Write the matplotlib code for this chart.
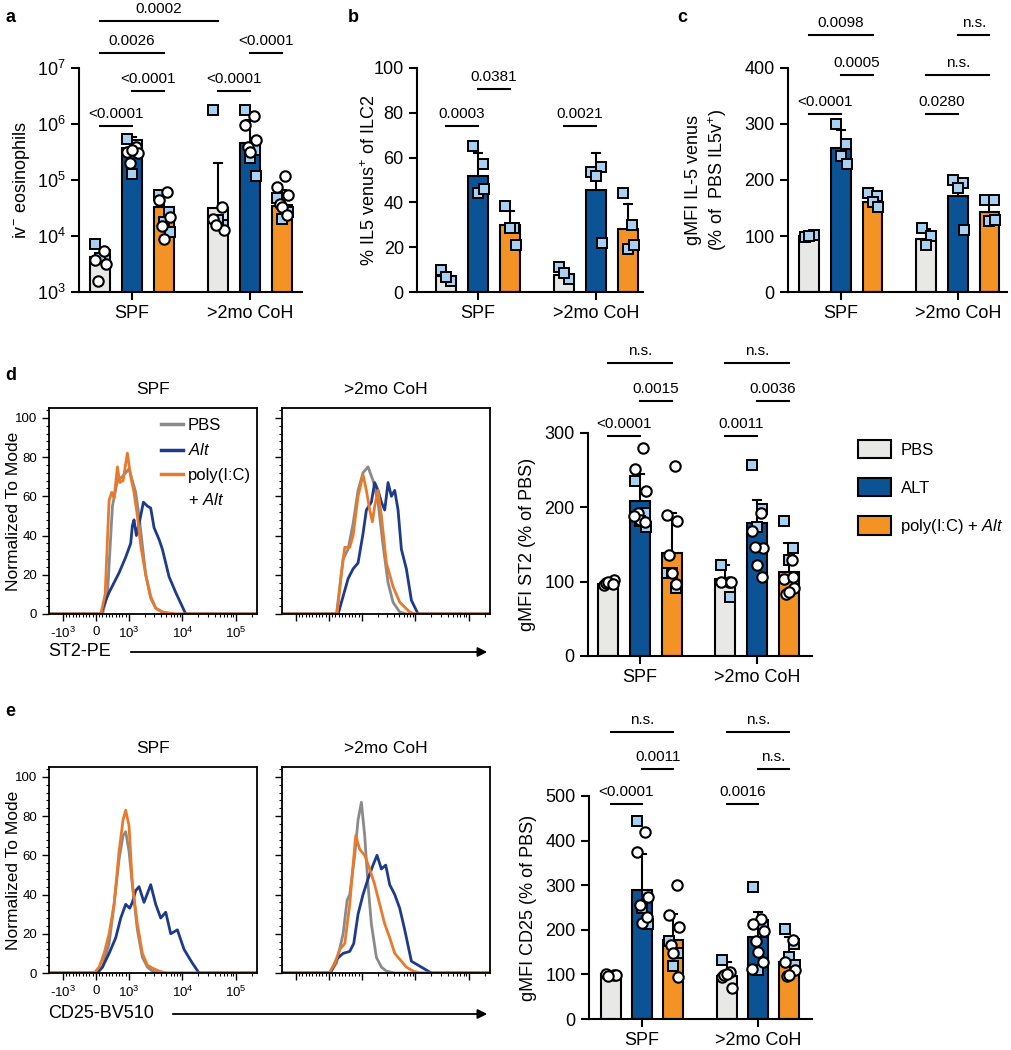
import numpy as np
import matplotlib.pyplot as plt
import matplotlib.ticker as mticker
from matplotlib.patches import Patch, FancyArrowPatch
from matplotlib.lines import Line2D

plt.rcParams['font.family'] = ['Liberation Sans', 'DejaVu Sans']
plt.rcParams['mathtext.fontset'] = 'custom'
plt.rcParams['mathtext.rm'] = 'Liberation Sans'
plt.rcParams['mathtext.it'] = 'Liberation Sans:italic'
plt.rcParams['mathtext.bf'] = 'Liberation Sans:bold'

# ---------------- data ----------------
groups = ["SPF", ">2mo CoH"]
treatments = ["PBS", "ALT", "poly(I:C) + Alt"]

# panel a: iv- eosinophils (log)
a_mean = [[4.2e3, 3.8e5, 3.3e4], [3.1e4, 4.5e5, 3.5e4]]
a_top = [[6.0e3, 5.9e5, 5.0e4], [2.0e5, 1.2e6, 6.6e4]]
a_sq = [[[7.2e3, 4.6e3, 4.0e3], [5.5e5, 4.2e5, 1.3e5], [5.4e4, 2.7e4, 1.8e4, 1.2e4]],
        [[1.8e6, 1.6e4, 1.9e4], [1.8e6, 3.4e5, 2.45e5, 1.2e5], [4.7e4, 2.9e4, 2.05e4, 2.7e4]]]
a_ci = [[[5.5e3, 3.8e3, 3.2e3, 1.6e3], [3.9e5, 3.2e5, 3.0e5, 2.0e5, 3.4e5], [6.2e4, 4.4e4, 2.2e4, 1.5e4, 9e3]],
        [[3.3e4, 2.0e4, 1.3e4, 1.6e4], [1.37e6, 9.6e5, 5.2e5, 3.9e5, 3.2e5], [1.2e5, 7.6e4, 5.4e4, 3.8e4, 3.3e4, 2.35e4]]]
a_stats = [(0, 0, 0, 1, 9.2e5, "<0.0001"), (0, 1, 0, 2, 3.9e6, "<0.0001"), (0, 0, 0, 2, 1.85e7, "0.0026"),
           (0, 0, 1, 0, 6.9e7, "0.0002"), (1, 0, 1, 1, 3.9e6, "<0.0001"), (1, 1, 1, 2, 1.85e7, "<0.0001")]

# panel b: % IL5 venus+ of ILC2
b_mean = [[7, 52, 30], [7.5, 45.5, 28]]
b_top = [[9, 62, 36], [9.5, 62, 39.5]]
b_sq = [[[10, 5, 6.5], [65, 57, 44, 46], [38.5, 28.4, 28.4, 21]],
        [[11, 6, 8.5], [53.7, 56, 52, 22], [44, 30, 19.4, 21]]]
b_stats = [(0, 0, 0, 1, 74, "0.0003"), (0, 1, 0, 2, 90.6, "0.0381"), (1, 0, 1, 1, 74, "0.0021")]

# panel c: gMFI IL-5 venus
c_mean = [[100, 257, 161], [94, 171, 143]]
c_top = [[103, 290, 176], [113, 197, 167]]
c_sq = [[[98, 102, 100], [300, 264, 243, 228], [177, 172, 161, 152]],
        [[115, 100, 84], [200, 195, 186, 110], [164, 164, 127, 128]]]
c_stats = [(0, 0, 0, 1, 318, "<0.0001"), (0, 1, 0, 2, 387, "0.0005"), (0, 0, 0, 2, 459, "0.0098"),
           (1, 0, 1, 1, 318, "0.0280"), (1, 0, 1, 2, 387, "n.s."), (1, 1, 1, 2, 459, "n.s.")]

# panel d bar: gMFI ST2
d_mean = [[97, 208, 138], [104, 179, 113]]
d_top = [[104, 245, 193], [122, 210, 152]]
d_sq = [[[], [235, 193, 182, 174], [111, 92, 111]],
        [[122, 80], [257, 198, 173], [182, 145, 129]]]
d_ci = [[[100, 95, 102, 98, 99, 97], [280, 251, 222, 193, 183, 180, 189], [255, 190, 181, 136, 111, 97]],
        [[100, 100, 100], [193, 168, 145, 146, 122, 106], [129, 104, 91, 84, 86, 106]]]
d_stats = [(0, 0, 0, 1, 296, "<0.0001"), (0, 1, 0, 2, 343, "0.0015"), (0, 0, 0, 2, 394, "n.s."),
           (1, 0, 1, 1, 296, "0.0011"), (1, 1, 1, 2, 343, "0.0036"), (1, 0, 1, 2, 394, "n.s.")]

# panel e bar: gMFI CD25
e_mean = [[100, 290, 178], [96, 183, 128]]
e_top = [[104, 369, 235], [128, 240, 183]]
e_sq = [[[], [445, 278, 248, 214], [175, 147, 119]],
        [[132], [295, 210, 110], [201, 169, 139, 121]]]
e_ci = [[[98, 101, 98, 96], [419, 375, 274, 255, 216, 229], [300, 233, 207, 166, 149, 95]],
        [[106, 95, 69, 98, 102], [225, 214, 197, 175, 151, 128, 113], [178, 128, 110, 96, 98]]]
e_stats = [(0, 0, 0, 1, 482, "<0.0001"), (0, 1, 0, 2, 560, "0.0011"), (0, 0, 0, 2, 643, "n.s."),
           (1, 0, 1, 1, 482, "0.0016"), (1, 1, 1, 2, 560, "n.s."), (1, 0, 1, 2, 643, "n.s.")]

# histograms (ST2-PE), x = fluorescence intensity, y = % of mode
d_spf_pbs_x = [-1800, 200, 350, 500, 650, 800, 1000, 1155, 1334, 1540, 1778, 2054, 2548, 3162, 4217, 6494, 250000]
d_spf_pbs_y = [0, 0, 10, 55, 68, 70, 74, 68, 62, 50, 35, 20, 8, 3, 1, 0, 0]
d_spf_alt_x = [-1800, 150, 300, 400, 550, 700, 900, 1075, 1155, 1240, 1372, 1654, 1857, 2207, 2548, 2943, 3652, 4217,
               5623, 7499, 11548, 250000]
d_spf_alt_y = [0, 0, 7, 11, 16, 21, 29, 36, 45, 48, 40, 50, 57, 55, 54, 44, 38, 33, 19, 11, 0, 0]
d_spf_pic_x = [-1800, 150, 280, 400, 480, 550, 650, 720, 820, 950, 1075, 1240, 1433, 1654, 2054, 2548, 3162, 4217, 7499,
               250000]
d_spf_pic_y = [0, 0, 10, 58, 62, 59, 75, 67, 68, 82, 70, 62, 50, 35, 20, 9, 3, 1, 0, 0]

d_coh_pbs_x = [-1800, 230, 430, 580, 730, 880, 1044, 1296, 1607, 1995, 2477, 3073, 3811, 5082, 6772, 250000]
d_coh_pbs_y = [0, 0, 28, 33, 46, 63, 72, 75, 68, 57, 35, 16, 6, 1, 0, 0]
d_coh_alt_x = [-1800, 280, 430, 580, 730, 880, 1044, 1206, 1496, 1728, 1995, 2304, 2661, 3073, 3548, 4097, 4732, 5464,
               6772, 8414, 11220, 250000]
d_coh_alt_y = [0, 0, 9, 18, 23, 26, 41, 53, 57, 67, 63, 57, 53, 67, 60, 63, 53, 33, 23, 7, 0, 0]
d_coh_pic_x = [-1800, 250, 380, 480, 630, 730, 880, 1044, 1206, 1393, 1563, 1728, 1995, 2304, 2858, 3811, 5082, 7834,
               9716, 250000]
d_coh_pic_y = [0, 0, 21, 34, 34, 40, 60, 71, 63, 53, 47, 55, 63, 50, 26, 14, 6, 1, 0, 0]

# histograms (CD25-BV510)
e_spf_pbs_x = [-1800, 0, 200, 400, 550, 700, 820, 900, 1000, 1155, 1433, 1778, 2207, 2738, 3652, 250000]
e_spf_pbs_y = [0, 0, 3, 15, 35, 58, 70, 72, 62, 45, 22, 8, 3, 1, 0, 0]
e_spf_alt_x = [-1800, 50, 200, 400, 600, 750, 900, 1030, 1155, 1334, 1540, 1910, 2548, 3162, 3926, 4870, 6043, 8058,
               10746, 15399, 20535, 250000]
e_spf_alt_y = [0, 0, 3, 10, 18, 28, 35, 33, 36, 42, 44, 36, 45, 35, 28, 31, 20, 22, 12, 5, 0, 0]
e_spf_pic_x = [-1800, -50, 100, 250, 400, 550, 700, 820, 900, 1000, 1155, 1433, 1778, 2207, 2738, 3652, 4870, 250000]
e_spf_pic_y = [0, 0, 3, 10, 20, 35, 62, 78, 83, 75, 45, 25, 10, 4, 2.5, 1, 0, 0]

e_coh_pbs_x = [-1800, 30, 230, 430, 550, 630, 780, 880, 980, 1122, 1296, 1496, 1857, 2304, 2858, 4097, 250000]
e_coh_pbs_y = [0, 0, 5, 20, 37, 40, 60, 78, 87, 70, 45, 25, 8, 3, 1, 0, 0]
e_coh_alt_x = [-1800, 50, 230, 430, 630, 750, 880, 1044, 1296, 1607, 1910, 2304, 2778, 3302, 4097, 5082, 6310, 8414,
               11220, 14962, 19953, 250000]
e_coh_alt_y = [0, 0, 7, 10, 11, 15, 30, 40, 48, 55, 60, 53, 55, 45, 40, 33, 22, 6, 4, 2, 0, 0]
e_coh_pic_x = [-1800, 10, 180, 330, 480, 630, 730, 810, 930, 1122, 1393, 1728, 2143, 2661, 3302, 4097, 5082, 6772, 9036,
               12042, 250000]
e_coh_pic_y = [0, 0, 5, 12, 15, 35, 55, 70, 63, 60, 53, 45, 35, 25, 18, 10, 7, 3, 1, 0, 0]

# ---------------- styles ----------------
bar_colors = ["#E8E8E6", "#0B5394", "#F39325"]
hist_colors = ["#8A8A8A", "#1E3A8A", "#E87A2D"]
square_fill = "#A9D0F0"
bar_off = [-0.27, 0.0, 0.27]
bar_w = 0.17
sq_pat = [-0.04, 0.04, 0.0, 0.05, -0.05, 0.02]
ci_pat = [0.03, -0.04, 0.05, -0.02, 0.0, 0.04, -0.05]

W, H = 1011, 1050
fig = plt.figure(figsize=(W / 100, H / 100), dpi=100)


def px_axes(left, top, right, bottom):
    return fig.add_axes([left / W, 1 - bottom / H, (right - left) / W, (bottom - top) / H])


def bar_panel(ax, means, tops, squares, circles, stats, xlim, log=False):
    base = 1 if log else 0
    for g in range(2):
        for t in range(3):
            x = g + bar_off[t]
            ax.bar(x, means[g][t] - base, bottom=base, width=bar_w, color=bar_colors[t],
                   edgecolor="black", linewidth=1.5, zorder=2)
            cw = 0.035
            ax.plot([x, x], [means[g][t], tops[g][t]], color="black", lw=1.5, zorder=3)
            ax.plot([x - cw, x + cw], [tops[g][t], tops[g][t]], color="black", lw=1.5, zorder=3)
            sq = squares[g][t]
            ax.plot([x + sq_pat[i % len(sq_pat)] for i in range(len(sq))], sq, "s", ms=6.5,
                    mfc=square_fill, mec="black", mew=1.4, ls="none", zorder=4, clip_on=False)
            if circles is not None:
                ci = circles[g][t]
                ax.plot([x + ci_pat[i % len(ci_pat)] for i in range(len(ci))], ci, "o", ms=7.5,
                        mfc="white", mec="black", mew=1.5, ls="none", zorder=5, clip_on=False)
    for g1, t1, g2, t2, y, lab in stats:
        x1 = g1 + bar_off[t1]
        x2 = g2 + bar_off[t2]
        ax.plot([x1, x2], [y, y], color="black", lw=1.5, clip_on=False)
        ax.annotate(lab, xy=((x1 + x2) / 2, y), xytext=(0, 3.5), textcoords="offset points",
                    ha="center", va="bottom", fontsize=11, annotation_clip=False)
    ax.set_xlim(*xlim)
    ax.set_xticks([0, 1])
    ax.set_xticklabels(groups, fontsize=13)
    for s in ["top", "right"]:
        ax.spines[s].set_visible(False)
    for s in ["left", "bottom"]:
        ax.spines[s].set_linewidth(1.5)
    ax.tick_params(axis="both", width=1.5, length=6, labelsize=13)


def hist_panel(ax, curves, title, show_labels):
    for (x, y), c in zip(curves, hist_colors):
        ax.plot(x, y, color=c, lw=2.0)
    ax.set_xscale("symlog", linthresh=1000, linscale=0.56)
    ax.set_xlim(-1800, 2.5e5)
    ax.set_ylim(0, 105)
    ax.xaxis.set_major_locator(mticker.FixedLocator([-1000, 0, 1000, 1e4, 1e5]))
    minors = ([-i * 100 for i in range(1, 10)] + [i * 100 for i in range(1, 10)]
              + [i * 1000 for i in range(2, 10)] + [i * 10000 for i in range(2, 10)]
              + [i * 100000 for i in range(2, 3)])
    ax.xaxis.set_minor_locator(mticker.FixedLocator(minors))
    ax.yaxis.set_major_locator(mticker.MultipleLocator(20))
    ax.yaxis.set_minor_locator(mticker.MultipleLocator(4))
    ax.tick_params(axis="both", which="major", length=5, width=1.0, labelsize=9.5)
    ax.tick_params(axis="both", which="minor", length=2.5, width=0.8)
    ax.set_yticks([0, 20, 40, 60, 80, 100])
    if show_labels:
        ax.set_xticklabels(["-10$^3$", "0", "10$^3$", "10$^4$", "10$^5$"])
        ax.set_ylabel("Normalized To Mode", fontsize=12.5, va="center")
        ax.yaxis.set_label_coords(-0.17, 0.5)
    else:
        ax.set_xticklabels([])
        ax.set_yticklabels([])
    for s in ax.spines.values():
        s.set_linewidth(1.3)
    ax.set_title(title, fontsize=12.5, pad=10)


# ---------------- panel a ----------------
ax_a = px_axes(79, 68, 302, 292)
ax_a.set_yscale("log")
ax_a.set_ylim(1e3, 1e7)
bar_panel(ax_a, a_mean, a_top, a_sq, a_ci, a_stats, (-0.449, 1.44), log=True)
ax_a.yaxis.set_major_locator(mticker.FixedLocator([1e3, 1e4, 1e5, 1e6, 1e7]))
ax_a.yaxis.set_minor_locator(mticker.NullLocator())
ax_a.set_yticklabels(["10$^3$", "10$^4$", "10$^5$", "10$^6$", "10$^7$"])
ax_a.set_ylabel("iv$^{-}$ eosinophils", fontsize=13, va="center")
ax_a.yaxis.set_label_coords(-0.26, 0.5)

# ---------------- panel b ----------------
ax_b = px_axes(417, 68, 643, 292)
ax_b.set_ylim(0, 100)
bar_panel(ax_b, b_mean, b_top, b_sq, None, b_stats, (-0.517, 1.40))
ax_b.set_yticks([0, 20, 40, 60, 80, 100])
ax_b.set_ylabel("% IL5 venus$^{+}$ of ILC2", fontsize=13, va="center")
ax_b.yaxis.set_label_coords(-0.21, 0.5)

# ---------------- panel c ----------------
ax_c = px_axes(788, 68, 1007, 292)
ax_c.set_ylim(0, 400)
bar_panel(ax_c, c_mean, c_top, c_sq, None, c_stats, (-0.453, 1.42))
ax_c.set_yticks([0, 100, 200, 300, 400])
ax_c.set_ylabel("gMFI IL-5 venus\n(% of  PBS IL5v$^{+}$)", fontsize=13, va="center", linespacing=1.3)
ax_c.yaxis.set_label_coords(-0.37, 0.5)

# ---------------- panel d ----------------
ax_d1 = px_axes(49, 408, 257, 614)
hist_panel(ax_d1, [(d_spf_pbs_x, d_spf_pbs_y), (d_spf_alt_x, d_spf_alt_y), (d_spf_pic_x, d_spf_pic_y)], "SPF", True)
ax_d2 = px_axes(282, 408, 490, 614)
hist_panel(ax_d2, [(d_coh_pbs_x, d_coh_pbs_y), (d_coh_alt_x, d_coh_alt_y), (d_coh_pic_x, d_coh_pic_y)], ">2mo CoH", False)

leg_handles = [Line2D([], [], color=hist_colors[0], lw=2.5),
               Line2D([], [], color=hist_colors[1], lw=2.5),
               Line2D([], [], color=hist_colors[2], lw=2.5),
               Line2D([], [], color="none", lw=0)]
ax_d1.legend(leg_handles, ["PBS", "$\\it{Alt}$", "poly(I:C)", "+ $\\it{Alt}$"], loc="upper left",
             bbox_to_anchor=(0.54, 0.95), frameon=False, fontsize=12, handlelength=1.3,
             handletextpad=0.3, labelspacing=0.55, borderpad=0, borderaxespad=0)

ax_db = px_axes(588, 433, 812, 656)
ax_db.set_ylim(0, 300)
bar_panel(ax_db, d_mean, d_top, d_sq, d_ci, d_stats, (-0.444, 1.47))
ax_db.set_yticks([0, 100, 200, 300])
ax_db.set_ylabel("gMFI ST2 (% of PBS)", fontsize=13, va="center")
ax_db.yaxis.set_label_coords(-0.27, 0.5)

fig.legend([Patch(facecolor=c, edgecolor="black", linewidth=1.5) for c in bar_colors],
           ["PBS", "ALT", "poly(I:C) + $\\it{Alt}$"], loc="upper left",
           bbox_to_anchor=(858 / W, 1 - 440 / H), frameon=False, fontsize=12,
           handlelength=2.0, handleheight=1.3, handletextpad=0.55, labelspacing=1.2,
           borderpad=0, borderaxespad=0)

# ---------------- panel e ----------------
ax_e1 = px_axes(49, 767, 257, 973)
hist_panel(ax_e1, [(e_spf_pbs_x, e_spf_pbs_y), (e_spf_alt_x, e_spf_alt_y), (e_spf_pic_x, e_spf_pic_y)], "SPF", True)
ax_e2 = px_axes(282, 767, 490, 973)
hist_panel(ax_e2, [(e_coh_pbs_x, e_coh_pbs_y), (e_coh_alt_x, e_coh_alt_y), (e_coh_pic_x, e_coh_pic_y)], ">2mo CoH", False)

ax_eb = px_axes(589, 796, 812, 1019)
ax_eb.set_ylim(0, 500)
bar_panel(ax_eb, e_mean, e_top, e_sq, e_ci, e_stats, (-0.457, 1.466))
ax_eb.set_yticks([0, 100, 200, 300, 400, 500])
ax_eb.set_ylabel("gMFI CD25 (% of PBS)", fontsize=13, va="center")
ax_eb.yaxis.set_label_coords(-0.27, 0.5)

# flow axis labels with arrows
for lab, y, x0 in [("ST2-PE", 652, 128), ("CD25-BV510", 1014, 170)]:
    fig.text(48 / W, 1 - y / H, lab, fontsize=13, ha="left", va="center")
    fig.add_artist(FancyArrowPatch((x0 / W, 1 - y / H), (490 / W, 1 - y / H),
                                   transform=fig.transFigure, arrowstyle="-|>",
                                   mutation_scale=14, lw=1.3, color="black"))

# panel letters
for lab, x, y in [("a", 5, 18), ("b", 348, 17), ("c", 677, 17), ("d", 5, 376), ("e", 5, 712)]:
    fig.text(x / W, 1 - y / H, lab, fontsize=13, fontweight="bold", ha="left", va="center")

fig.savefig("out.png", dpi=100)
